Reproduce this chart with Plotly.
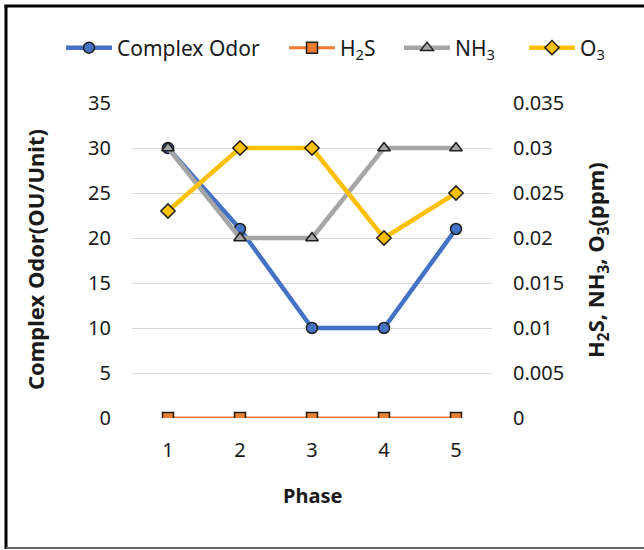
import plotly.graph_objects as go

phases = [1, 2, 3, 4, 5]
phase_labels = ["1", "2", "3", "4", "5"]
complex_odor = [30, 21, 10, 10, 21]
h2s = [0, 0, 0, 0, 0]
nh3 = [0.03, 0.02, 0.02, 0.03, 0.03]
o3 = [0.023, 0.03, 0.03, 0.02, 0.025]
left_ticks = [0, 5, 10, 15, 20, 25, 30, 35]
right_ticks = [0, 0.005, 0.01, 0.015, 0.02, 0.025, 0.03, 0.035]
right_labels = ["0", "0.005", "0.01", "0.015", "0.02", "0.025", "0.03", "0.035"]

W, H = 644, 550
L, R, T, B = 132, 492, 103, 418
FONT = "Noto Sans"
TXT = "#1a1a1a"

def px(x):
    return (x - L) / (R - L)

def py(y):
    return (B - y) / (B - T)

fig = go.Figure()
fig.add_trace(go.Scatter(
    x=phases, y=complex_odor, name="Complex Odor", mode="lines+markers", legend="legend",
    line=dict(color="#4472C4", width=4.5),
    marker=dict(symbol="circle", size=11, color="#4472C4", line=dict(color="#1f1f1f", width=1.5)),
))
fig.add_trace(go.Scatter(
    x=phases, y=h2s, name="H<sub>2</sub>S", mode="lines+markers", yaxis="y2", legend="legend2",
    line=dict(color="#ED7D31", width=3),
    marker=dict(symbol="square", size=11, color="#ED7D31", line=dict(color="#1f1f1f", width=1.5)),
))
fig.add_trace(go.Scatter(
    x=phases, y=nh3, name="NH<sub>3</sub>", mode="lines+markers", yaxis="y2", legend="legend3",
    line=dict(color="#A5A5A5", width=4.5),
    marker=dict(symbol="triangle-up", size=11, color="#A5A5A5", line=dict(color="#1f1f1f", width=1.5)),
))
fig.add_trace(go.Scatter(
    x=phases, y=o3, name="O<sub>3</sub>", mode="lines+markers", yaxis="y2", legend="legend4",
    line=dict(color="#FFC000", width=4.5),
    marker=dict(symbol="diamond", size=11, color="#FFC000", line=dict(color="#1f1f1f", width=1.5)),
))

def leg(xpix):
    return dict(orientation="h", x=px(xpix), xanchor="left", y=py(48), yanchor="middle",
                font=dict(size=21, color=TXT), itemwidth=46, bgcolor="rgba(0,0,0,0)")

fig.update_layout(
    width=W, height=H,
    margin=dict(l=L, r=W - R, t=T, b=H - B, pad=0),
    paper_bgcolor="white", plot_bgcolor="white",
    font=dict(family=FONT, size=20, color=TXT),
    showlegend=True,
    legend=leg(61), legend2=leg(284), legend3=leg(399), legend4=leg(524),
    xaxis=dict(range=[0.5, 5.5], tickvals=phases, ticktext=phase_labels,
               showgrid=False, zeroline=False, showline=False, ticks="",
               ticklabelstandoff=18, tickfont=dict(size=20)),
    yaxis=dict(range=[0, 35], tickvals=left_ticks, showgrid=True, gridcolor="#D9D9D9",
               gridwidth=1.3, zeroline=False, showline=False, ticks="",
               ticklabelstandoff=20, tickfont=dict(size=20)),
    yaxis2=dict(range=[0, 0.035], tickvals=right_ticks, ticktext=right_labels,
                overlaying="y", side="right", showgrid=False, zeroline=False,
                showline=False, ticks="", ticklabelstandoff=20, tickfont=dict(size=20)),
    annotations=[
        dict(text="<b>Complex Odor(OU/Unit)</b>", textangle=-90, xref="paper", yref="paper",
             x=px(35), y=py(260), showarrow=False, font=dict(size=22, color=TXT),
             xanchor="center", yanchor="middle"),
        dict(text="<b>H<sub>2</sub>S, NH<sub>3</sub>, O<sub>3</sub>(ppm)</b>", textangle=-90,
             xref="paper", yref="paper", x=px(597), y=py(260), showarrow=False,
             font=dict(size=22, color=TXT), xanchor="center", yanchor="middle"),
        dict(text="<b>Phase</b>", xref="paper", yref="paper", x=px(312), y=py(495),
             showarrow=False, font=dict(size=20, color=TXT), xanchor="center", yanchor="middle"),
    ],
    shapes=[
        dict(type="line", xref="paper", yref="paper", x0=px(6), x1=px(6), y0=py(5), y1=py(549),
             line=dict(color="black", width=3)),
        dict(type="line", xref="paper", yref="paper", x0=px(4.5), x1=px(644), y0=py(6), y1=py(6),
             line=dict(color="black", width=3)),
        dict(type="line", xref="paper", yref="paper", x0=px(6), x1=px(644), y0=py(548), y1=py(548),
             line=dict(color="#666666", width=2)),
    ],
)

fig.write_html("out.html")
